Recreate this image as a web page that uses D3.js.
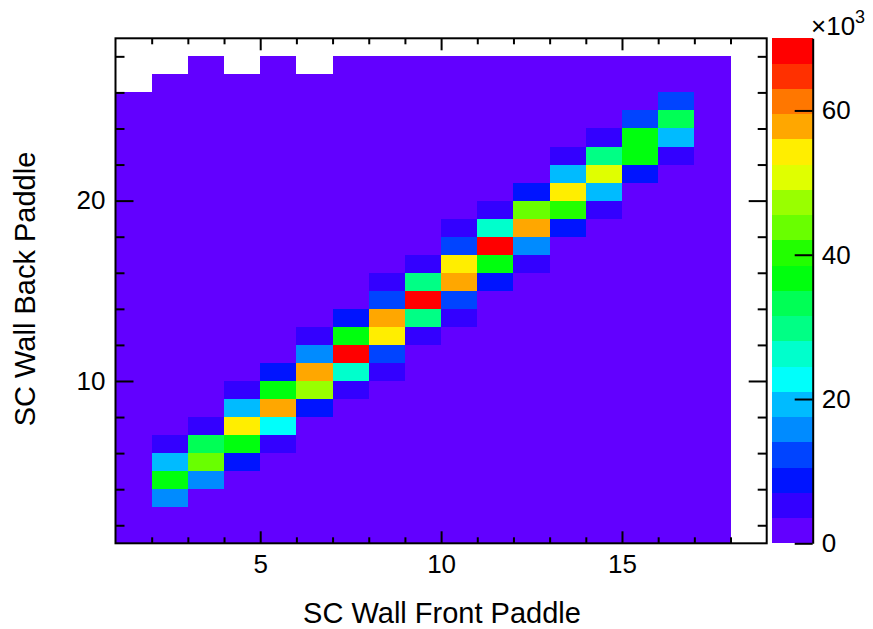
<!DOCTYPE html>
<html>
<head>
<meta charset="utf-8">
<script src="https://cdn.jsdelivr.net/npm/d3@7"></script>
<style>
  html, body { margin: 0; padding: 0; background: #ffffff; }
  svg { display: block; }
  text { font-family: "Liberation Sans", Arial, Helvetica, sans-serif; fill: #000; }
</style>
</head>
<body>
<svg id="chart" width="873" height="629"></svg>
<script>
// Front paddle index (x bins, width 1) and back paddle index (y bins, width 1)
const frontPaddles = [1, 2, 3, 4, 5, 6, 7, 8, 9, 10, 11, 12, 13, 14, 15, 16, 17];
const backPaddles = [27, 26, 25, 24, 23, 22, 21, 20, 19, 18, 17, 16, 15, 14, 13, 12, 11, 10, 9, 8, 7, 6, 5, 4, 3, 2, 1];

// Coincidence counts in units of 10^3; one row per back paddle (top row = paddle 27),
// one column per front paddle. null = empty bin.
const counts = [
  [null, null, 0.5, null, 0.5, null, 0.5, 0.5, 0.5, 0.5, 0.5, 0.5, 0.5, 0.5, 0.5, 0.5, 0.5], // 27
  [null, 0.5, 0.5, 0.5, 0.5, 0.5, 0.5, 0.5, 0.5, 0.5, 0.5, 0.5, 0.5, 0.5, 0.5, 0.5, 0.5],   // 26
  [0.5, 0.5, 0.5, 0.5, 0.5, 0.5, 0.5, 0.5, 0.5, 0.5, 0.5, 0.5, 0.5, 0.5, 0.5, 12.3, 0.5],   // 25
  [0.5, 0.5, 0.5, 0.5, 0.5, 0.5, 0.5, 0.5, 0.5, 0.5, 0.5, 0.5, 0.5, 0.5, 12.3, 33.3, 0.5],  // 24
  [0.5, 0.5, 0.5, 0.5, 0.5, 0.5, 0.5, 0.5, 0.5, 0.5, 0.5, 0.5, 0.5, 5.2, 36.8, 19.3, 0.5],  // 23
  [0.5, 0.5, 0.5, 0.5, 0.5, 0.5, 0.5, 0.5, 0.5, 0.5, 0.5, 0.5, 5.2, 29.8, 36.8, 5.2, 0.5],  // 22
  [0.5, 0.5, 0.5, 0.5, 0.5, 0.5, 0.5, 0.5, 0.5, 0.5, 0.5, 0.5, 19.3, 50.8, 8.8, 0.5, 0.5],  // 21
  [0.5, 0.5, 0.5, 0.5, 0.5, 0.5, 0.5, 0.5, 0.5, 0.5, 0.5, 8.8, 54.3, 19.3, 0.5, 0.5, 0.5],  // 20
  [0.5, 0.5, 0.5, 0.5, 0.5, 0.5, 0.5, 0.5, 0.5, 0.5, 5.2, 43.8, 40.3, 5.2, 0.5, 0.5, 0.5],  // 19
  [0.5, 0.5, 0.5, 0.5, 0.5, 0.5, 0.5, 0.5, 0.5, 5.2, 26.3, 57.8, 8.8, 0.5, 0.5, 0.5, 0.5],  // 18
  [0.5, 0.5, 0.5, 0.5, 0.5, 0.5, 0.5, 0.5, 0.5, 12.3, 68.3, 15.8, 0.5, 0.5, 0.5, 0.5, 0.5], // 17
  [0.5, 0.5, 0.5, 0.5, 0.5, 0.5, 0.5, 0.5, 5.2, 54.3, 36.8, 5.2, 0.5, 0.5, 0.5, 0.5, 0.5],  // 16
  [0.5, 0.5, 0.5, 0.5, 0.5, 0.5, 0.5, 5.2, 29.8, 57.8, 8.8, 0.5, 0.5, 0.5, 0.5, 0.5, 0.5],  // 15
  [0.5, 0.5, 0.5, 0.5, 0.5, 0.5, 0.5, 12.3, 70.0, 12.3, 0.5, 0.5, 0.5, 0.5, 0.5, 0.5, 0.5], // 14
  [0.5, 0.5, 0.5, 0.5, 0.5, 0.5, 8.8, 57.8, 29.8, 5.2, 0.5, 0.5, 0.5, 0.5, 0.5, 0.5, 0.5],  // 13
  [0.5, 0.5, 0.5, 0.5, 0.5, 5.2, 36.8, 54.3, 5.2, 0.5, 0.5, 0.5, 0.5, 0.5, 0.5, 0.5, 0.5],  // 12
  [0.5, 0.5, 0.5, 0.5, 0.5, 15.8, 69.1, 12.3, 0.5, 0.5, 0.5, 0.5, 0.5, 0.5, 0.5, 0.5, 0.5], // 11
  [0.5, 0.5, 0.5, 0.5, 8.8, 57.8, 26.3, 5.2, 0.5, 0.5, 0.5, 0.5, 0.5, 0.5, 0.5, 0.5, 0.5],  // 10
  [0.5, 0.5, 0.5, 5.2, 36.8, 47.3, 5.2, 0.5, 0.5, 0.5, 0.5, 0.5, 0.5, 0.5, 0.5, 0.5, 0.5],  // 9
  [0.5, 0.5, 0.5, 19.3, 57.8, 8.8, 0.5, 0.5, 0.5, 0.5, 0.5, 0.5, 0.5, 0.5, 0.5, 0.5, 0.5],  // 8
  [0.5, 0.5, 5.2, 54.3, 22.8, 0.5, 0.5, 0.5, 0.5, 0.5, 0.5, 0.5, 0.5, 0.5, 0.5, 0.5, 0.5],  // 7
  [0.5, 5.2, 33.3, 36.8, 5.2, 0.5, 0.5, 0.5, 0.5, 0.5, 0.5, 0.5, 0.5, 0.5, 0.5, 0.5, 0.5],  // 6
  [0.5, 19.3, 43.8, 8.8, 0.5, 0.5, 0.5, 0.5, 0.5, 0.5, 0.5, 0.5, 0.5, 0.5, 0.5, 0.5, 0.5],  // 5
  [0.5, 36.8, 15.8, 0.5, 0.5, 0.5, 0.5, 0.5, 0.5, 0.5, 0.5, 0.5, 0.5, 0.5, 0.5, 0.5, 0.5],  // 4
  [0.5, 15.8, 0.5, 0.5, 0.5, 0.5, 0.5, 0.5, 0.5, 0.5, 0.5, 0.5, 0.5, 0.5, 0.5, 0.5, 0.5],   // 3
  [0.5, 0.5, 0.5, 0.5, 0.5, 0.5, 0.5, 0.5, 0.5, 0.5, 0.5, 0.5, 0.5, 0.5, 0.5, 0.5, 0.5],    // 2
  [0.5, 0.5, 0.5, 0.5, 0.5, 0.5, 0.5, 0.5, 0.5, 0.5, 0.5, 0.5, 0.5, 0.5, 0.5, 0.5, 0.5]     // 1
];

// Axis ticks
const xMajorTicks = [5, 10, 15];
const xMinorTicks = [2, 3, 4, 6, 7, 8, 9, 11, 12, 13, 14, 16, 17, 18];
const yMajorTicks = [10, 20];
const yMinorTicks = [2, 4, 6, 8, 12, 14, 16, 18, 22, 24, 26, 28];
const zTicks = [0, 20, 40, 60];

// 20-level violet-to-red contour palette
const paletteColors = [
  "#6200ff", "#3300ff", "#0014ff", "#0044ff", "#008bff",
  "#00bbff", "#00fffb", "#00ffcc", "#00ff85", "#00ff55",
  "#00ff0e", "#22ff00", "#69ff00", "#99ff00", "#e0ff00",
  "#ffee00", "#ffa700", "#ff7700", "#ff3000", "#ff0000"
];

const xTitle = "SC Wall Front Paddle";
const yTitle = "SC Wall Back Paddle";

// ---- layout ----
const frame = { left: 115.5, right: 766.7, top: 38.3, bottom: 543.3 };
const pal = { left: 771.7, right: 812.7 };

const svg = d3.select("#chart");

const x = d3.scaleLinear().domain([1, 19]).range([frame.left, frame.right]);
const y = d3.scaleLinear().domain([1, 29]).range([frame.bottom, frame.top]);

const cells = [];
counts.forEach((row, i) => {
  row.forEach((v, j) => {
    if (v !== null) cells.push({ fx: frontPaddles[j], bx: backPaddles[i], v });
  });
});

const zMax = d3.max(cells, d => d.v);
const z = d3.scaleQuantize().domain([0, zMax]).range(paletteColors);

// ---- histogram cells ----
svg.append("g")
  .attr("shape-rendering", "crispEdges")
  .selectAll("rect")
  .data(cells)
  .join("rect")
  .attr("x", d => x(d.fx))
  .attr("y", d => y(d.bx + 1))
  .attr("width", d => x(d.fx + 1) - x(d.fx))
  .attr("height", d => y(d.bx) - y(d.bx + 1))
  .attr("fill", d => z(d.v));

// ---- axes ----
const fontSize = 26;
const titleSize = 29;

function styleAxis(g) {
  g.selectAll(".domain").remove();
  g.selectAll(".tick line").attr("stroke", "#000").attr("stroke-width", 2);
  g.selectAll(".tick text").attr("font-size", fontSize).attr("font-family", null);
}

// bottom
svg.append("g").attr("transform", `translate(0,${frame.bottom})`)
  .call(d3.axisBottom(x).tickValues(xMajorTicks).tickSize(-12).tickPadding(11).tickFormat(d3.format("d")))
  .call(styleAxis);
svg.append("g").attr("transform", `translate(0,${frame.bottom})`)
  .call(d3.axisBottom(x).tickValues(xMinorTicks).tickSize(-6).tickFormat(""))
  .call(styleAxis);
// top (mirrored ticks)
svg.append("g").attr("transform", `translate(0,${frame.top})`)
  .call(d3.axisTop(x).tickValues(xMajorTicks).tickSize(-12).tickFormat(""))
  .call(styleAxis);
svg.append("g").attr("transform", `translate(0,${frame.top})`)
  .call(d3.axisTop(x).tickValues(xMinorTicks).tickSize(-6).tickFormat(""))
  .call(styleAxis);
// left
svg.append("g").attr("transform", `translate(${frame.left},0)`)
  .call(d3.axisLeft(y).tickValues(yMajorTicks).tickSize(-18).tickPadding(10).tickFormat(d3.format("d")))
  .call(styleAxis);
svg.append("g").attr("transform", `translate(${frame.left},0)`)
  .call(d3.axisLeft(y).tickValues(yMinorTicks).tickSize(-9).tickFormat(""))
  .call(styleAxis);
// right (mirrored ticks)
svg.append("g").attr("transform", `translate(${frame.right},0)`)
  .call(d3.axisRight(y).tickValues(yMajorTicks).tickSize(-18).tickFormat(""))
  .call(styleAxis);
svg.append("g").attr("transform", `translate(${frame.right},0)`)
  .call(d3.axisRight(y).tickValues(yMinorTicks).tickSize(-9).tickFormat(""))
  .call(styleAxis);

// frame
svg.append("rect")
  .attr("x", frame.left).attr("y", frame.top)
  .attr("width", frame.right - frame.left)
  .attr("height", frame.bottom - frame.top)
  .attr("fill", "none").attr("stroke", "#000").attr("stroke-width", 2);

// ---- colour palette ----
const zy = d3.scaleLinear().domain([0, zMax]).range([frame.bottom, frame.top]);
const step = zMax / paletteColors.length;
svg.append("g")
  .attr("shape-rendering", "crispEdges")
  .selectAll("rect")
  .data(paletteColors)
  .join("rect")
  .attr("x", pal.left)
  .attr("width", pal.right - pal.left)
  .attr("y", (c, i) => zy((i + 1) * step))
  .attr("height", (c, i) => zy(i * step) - zy((i + 1) * step))
  .attr("fill", c => c);

const zAxisG = svg.append("g").attr("transform", `translate(${pal.right},0)`)
  .call(d3.axisRight(zy).tickValues(zTicks).tickSize(-18).tickSizeOuter(0).tickPadding(9).tickFormat(d3.format("d")));
zAxisG.select(".domain").attr("stroke", "#000").attr("stroke-width", 2);
zAxisG.selectAll(".tick line").attr("stroke", "#000").attr("stroke-width", 2);
zAxisG.selectAll(".tick text").attr("font-size", fontSize).attr("font-family", null);

// exponent label
const expo = svg.append("text")
  .attr("x", 811)
  .attr("y", 35)
  .attr("font-size", fontSize);
expo.append("tspan").text("\u00d710");
expo.append("tspan").attr("dy", -12).attr("font-size", 18).text("3");

// ---- titles ----
svg.append("text")
  .attr("x", 442).attr("y", 623)
  .attr("text-anchor", "middle")
  .attr("font-size", titleSize)
  .text(xTitle);

svg.append("text")
  .attr("transform", "translate(35,289) rotate(-90)")
  .attr("text-anchor", "middle")
  .attr("font-size", titleSize)
  .text(yTitle);
</script>
</body>
</html>
